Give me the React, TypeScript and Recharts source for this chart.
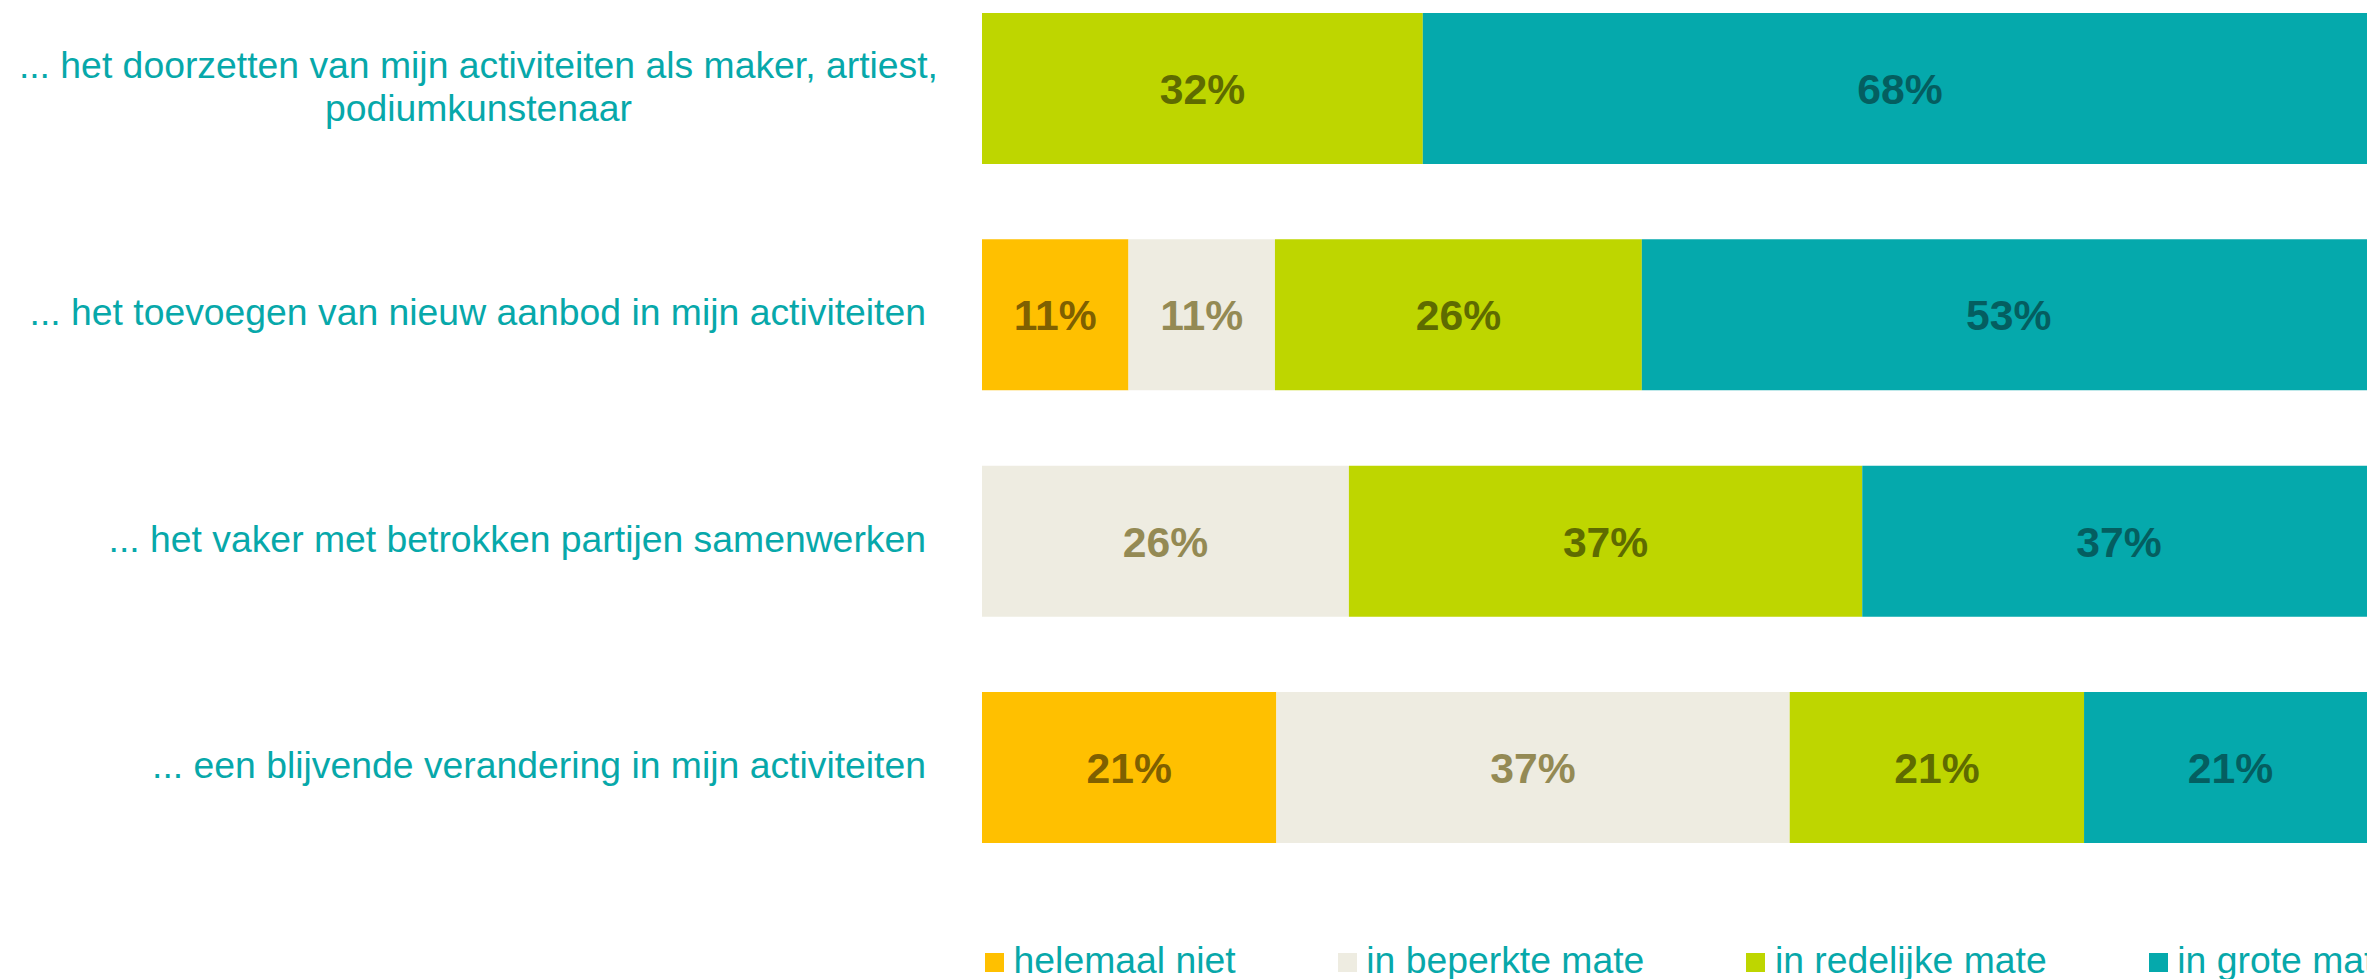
import React from "react";
import { BarChart, Bar, XAxis, YAxis, LabelList, Legend } from "recharts";

const categories = [
  "... het doorzetten van mijn activiteiten als maker, artiest,\npodiumkunstenaar",
  "... het toevoegen van nieuw aanbod in mijn activiteiten",
  "... het vaker met betrokken partijen samenwerken",
  "... een blijvende verandering in mijn activiteiten",
];

const seriesNames = ["helemaal niet", "in beperkte mate", "in redelijke mate", "in grote mate"];
const helemaalNiet = [0, 10.5, 0, 21.1];
const inBeperkteMate = [0, 10.5, 26.3, 36.8];
const inRedelijkeMate = [31.6, 26.3, 36.8, 21.1];
const inGroteMate = [68.4, 52.6, 36.8, 21.1];

const seriesColors = ["#FFC000", "#EEECE1", "#BED600", "#05A9AC"];
const labelColors = ["#7F6000", "#948A54", "#5E6B00", "#045E60"];
const textColor = "#07A8AA";
const FONT = "'Liberation Sans', Arial, sans-serif";

const keys = ["s0", "s1", "s2", "s3"];
const seriesValues = [helemaalNiet, inBeperkteMate, inRedelijkeMate, inGroteMate];

const data = categories.map((name, i) => {
  const row: any = { name };
  keys.forEach((k, j) => {
    row[k] = seriesValues[j][i];
  });
  return row;
});

let measureCtx: any = null;
function measure(text: string, size: number): number {
  try {
    if (!measureCtx) measureCtx = document.createElement("canvas").getContext("2d");
    measureCtx.font = `${size}px 'Liberation Sans', Arial, sans-serif`;
    return measureCtx.measureText(text).width;
  } catch (e) {
    return text.length * size * 0.45;
  }
}

const AXIS_FS = 37.33;

const CategoryTick = (props: any) => {
  const { x, y, payload } = props;
  const lines: string[] = String(payload.value).split("\n");
  if (lines.length === 1) {
    return (
      <text x={x - 56} y={y + 11} textAnchor="end" fill={textColor} fontSize={AXIS_FS} fontFamily={FONT}>
        {lines[0]}
      </text>
    );
  }
  const w = Math.max(...lines.map((l) => measure(l, AXIS_FS)));
  const cx = x - 44 - w / 2;
  const lineH = 43;
  const first = y + 11.7 - ((lines.length - 1) * lineH) / 2;
  return (
    <text textAnchor="middle" fill={textColor} fontSize={AXIS_FS} fontFamily={FONT}>
      {lines.map((l, i) => (
        <tspan key={i} x={cx} y={first + i * lineH}>
          {l}
        </tspan>
      ))}
    </text>
  );
};

const makeLabel = (color: string) => (props: any) => {
  const { x, y, width, height, value } = props;
  if (!value) return null;
  return (
    <text
      x={Number(x) + Number(width) / 2}
      y={Number(y) + Number(height) / 2 + 15.5}
      textAnchor="middle"
      fill={color}
      fontSize={42.67}
      fontWeight="bold"
      fontFamily={FONT}
    >
      {`${Math.round(Number(value))}%`}
    </text>
  );
};

const renderLegend = () => (
  <div style={{ display: "flex", whiteSpace: "nowrap", fontFamily: FONT, fontSize: AXIS_FS, lineHeight: `${AXIS_FS}px`, color: textColor }}>
    {seriesNames.map((n, i) => (
      <div key={n} style={{ display: "flex", alignItems: "flex-start", marginRight: 102 }}>
        <span style={{ display: "inline-block", width: 19, height: 19, marginTop: 10.9, marginRight: 9.6, background: seriesColors[i] }} />
        <span>{n}</span>
      </div>
    ))}
  </div>
);

export default function App() {
  return (
    <div style={{ position: "fixed", left: 8, top: 8, width: 2359, height: 971, overflow: "hidden", background: "#fff" }}>
      <div style={{ marginTop: -40 }}>
        <BarChart
          width={2369}
          height={1060}
          data={data}
          layout="vertical"
          barSize={151}
          margin={{ top: 7, right: 0, bottom: 147.7, left: 0 }}
        >
          <XAxis type="number" domain={[0, 100]} hide allowDataOverflow />
          <YAxis
            type="category"
            dataKey="name"
            width={974}
            tickLine={false}
            axisLine={false}
            tickSize={0}
            tickMargin={0}
            interval={0}
            tick={CategoryTick}
          />
          <Legend
            layout="horizontal"
            verticalAlign="middle"
            align="center"
            wrapperStyle={{ left: 977, top: 974.4, width: 1500, height: 40 }}
            content={renderLegend}
          />
          {keys.map((k, i) => (
            <Bar key={k} dataKey={k} name={seriesNames[i]} stackId="a" fill={seriesColors[i]} barSize={151} isAnimationActive={false}>
              <LabelList dataKey={k} content={makeLabel(labelColors[i])} />
            </Bar>
          ))}
        </BarChart>
      </div>
    </div>
  );
}
